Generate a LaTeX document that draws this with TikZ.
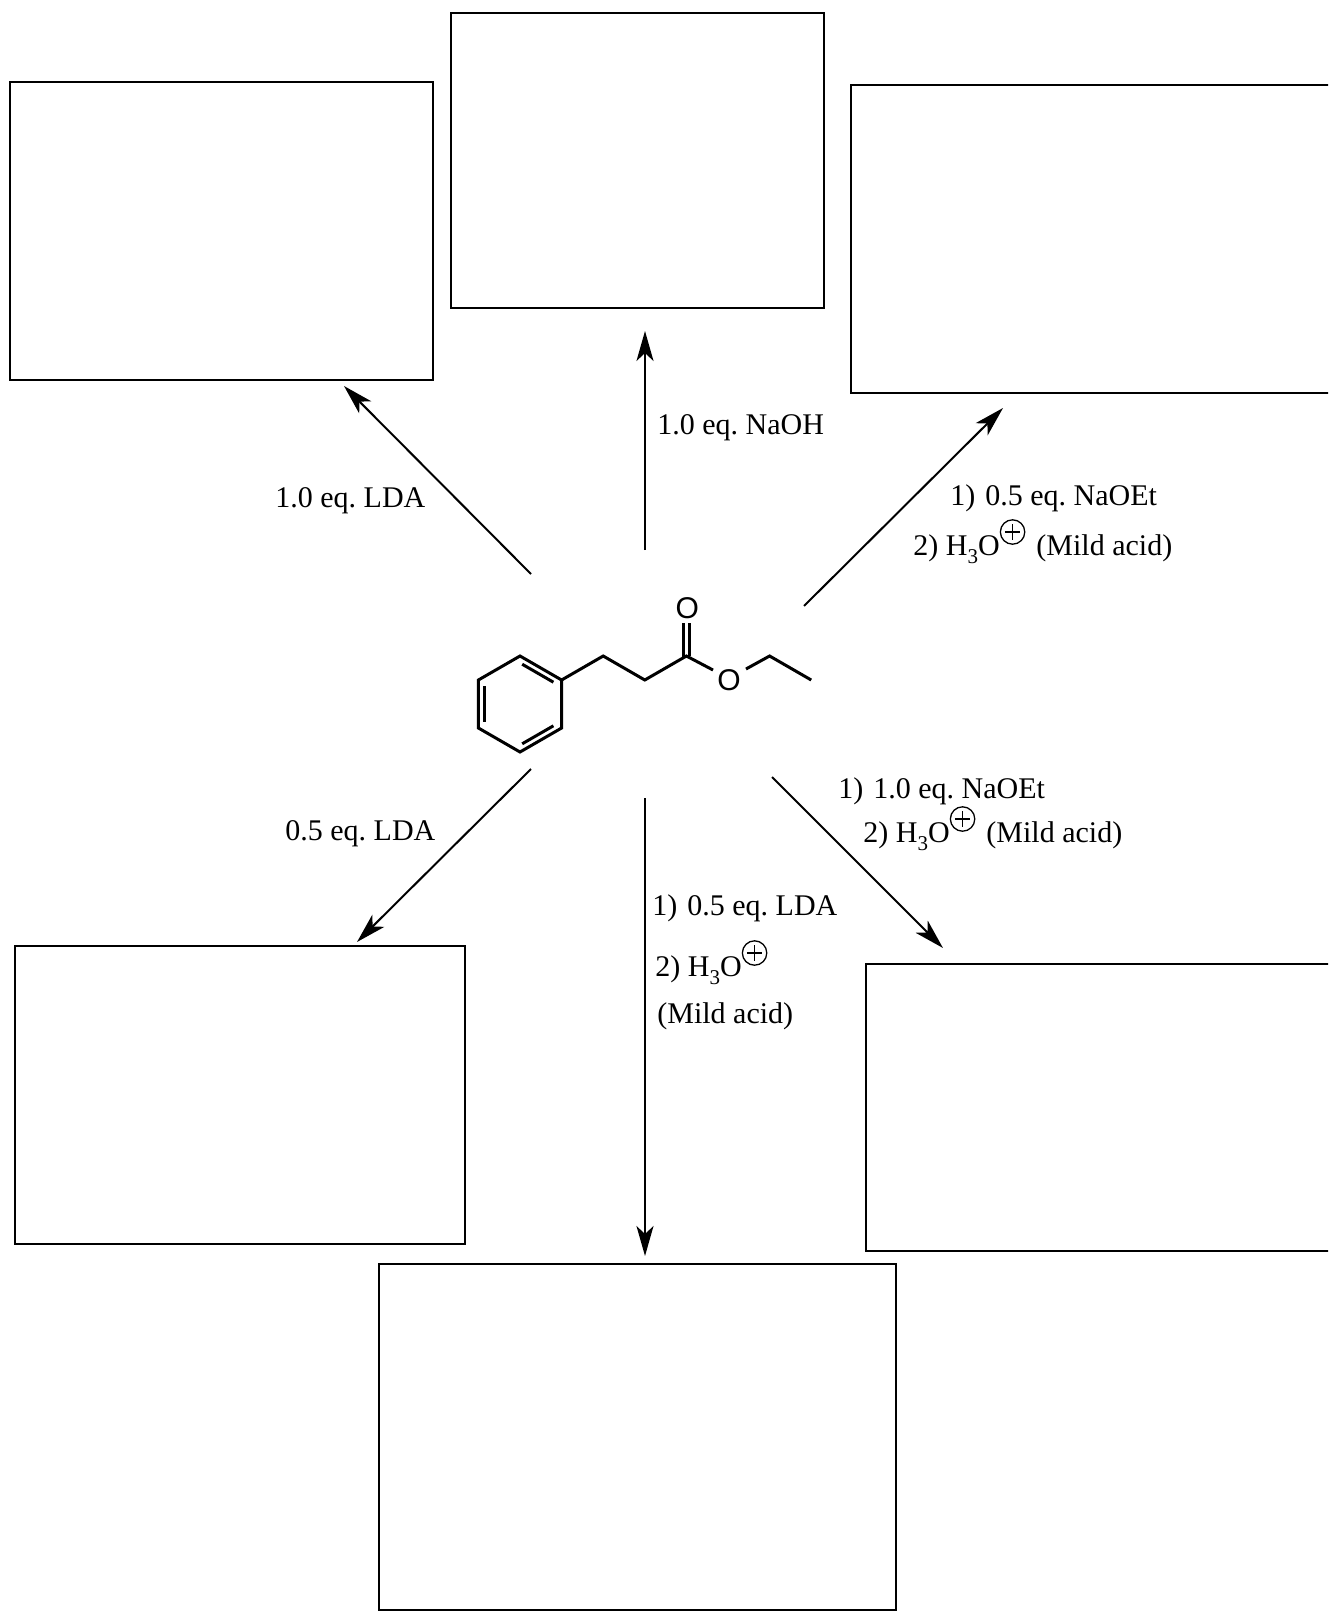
\documentclass[tikz,border=0pt]{standalone}
\usepackage{fontspec}
\setmainfont{Liberation Serif}
\newfontfamily\chemfont{Liberation Sans}
\usetikzlibrary{arrows.meta}
\newcommand{\cplus}{\tikz[baseline=-11.5pt,line width=0.65pt]{\draw (0pt,0pt) circle[radius=6.1pt]; \draw (-3.8pt,0pt)--(3.8pt,0pt) (0pt,-3.8pt)--(0pt,3.8pt);}}
\newcommand{\sbt}{\raisebox{-4pt}{\fontsize{10.5}{10.5}\selectfont 3}}
\begin{document}
\begin{tikzpicture}[x=0.5pt,y=-0.5pt,
  box/.style={draw, line width=1.3pt, inner sep=0pt, outer sep=0pt, anchor=north west},
  rxn/.style={line width=1pt, -{Stealth[length=15pt,width=8.5pt,inset=4pt]}},
  lbl/.style={anchor=base west, inner sep=0pt, font=\fontsize{15}{17}\selectfont\frenchspacing},
  bond/.style={line width=1.5pt, line cap=butt, line join=miter},
  atom/.style={font=\chemfont\fontsize{15}{17}\selectfont, inner sep=0pt}]
\useasboundingbox (0,0) rectangle (1328,1611);
\fill[white] (0,0) rectangle (1328,1611);
\clip (0,0) rectangle (1328,1611);

% product boxes
\node[box, minimum width=211.5pt, minimum height=149pt] (btl) at (10,82) {};
\node[box, minimum width=186.5pt, minimum height=147.5pt] (btm) at (451,13) {};
\node[box, minimum width=274.5pt, minimum height=154pt] (btr) at (851,85) {};
\node[box, minimum width=225pt, minimum height=149pt] (bbl) at (15,946) {};
\node[box, minimum width=267pt, minimum height=143.5pt] (bbr) at (866,964) {};
\node[box, minimum width=258.5pt, minimum height=173pt] (bb) at (379,1264) {};

% molecule: ethyl 3-phenylpropanoate
\draw[bond] (520,656) -- (561.6,680) -- (561.6,728) -- (520,752) -- (478.4,728) -- (478.4,680) -- cycle;
\draw[bond] (484.4,686) -- (484.4,722);
\draw[bond] (522.2,664.2) -- (553.4,682.2);
\draw[bond] (553.4,725.8) -- (522.2,743.8);
\draw[bond] (561.6,680) -- (603.2,656) -- (644.8,680) -- (686.4,656) -- (713,670);
\draw[bond] (683.4,657) -- (683.4,623);
\draw[bond] (689.6,656) -- (689.6,623);
\node[atom] (ocarb) at (687.3,608.3) {O};
\node[atom] (oest) at (729,680) {O};
\draw[bond] (746,669) -- (769.6,656) -- (811.2,680);

% arrow end points
\coordinate (tnw) at (531,574); \coordinate (hnw) at (344,386);
\coordinate (tn) at (645,550);  \coordinate (hn) at (645,331);
\coordinate (tne) at (804,606); \coordinate (hne) at (1003,408);
\coordinate (tsw) at (531,769); \coordinate (hsw) at (357,942);
\coordinate (ts) at (645,798);  \coordinate (hs) at (645,1256);
\coordinate (tse) at (772,777); \coordinate (hse) at (943,948);

\draw[rxn] (tnw) -- (hnw);
\draw[rxn] (tn) -- (hn);
\draw[rxn] (tne) -- (hne);
\draw[rxn] (tsw) -- (hsw);
\draw[rxn] (ts) -- (hs);
\draw[rxn] (tse) -- (hse);

% labels
\node[lbl] (lnaoh) at (657,434) {1.0 eq. NaOH};
\node[lbl] (l1lda) at (275,507) {1.0 eq. LDA};
\node[lbl] (l05lda) at (285,840) {0.5 eq. LDA};
\node[lbl] (ne1) at (950,505) {1)\hspace{5pt}0.5 eq. NaOEt};
\node[lbl] (ne2) at (913,555) {2) H\sbt O\cplus\hspace{5.5pt}(Mild acid)};
\node[lbl] (se1) at (838,798) {1)\hspace{5pt}1.0 eq. NaOEt};
\node[lbl] (se2) at (863,842) {2) H\sbt O\cplus\hspace{5.5pt}(Mild acid)};
\node[lbl] (s1) at (652,915) {1)\hspace{5pt}0.5 eq. LDA};
\node[lbl] (s2) at (655,976) {2) H\sbt O\cplus};
\node[lbl] (s3) at (657,1023) {(Mild acid)};
\end{tikzpicture}
\end{document}
